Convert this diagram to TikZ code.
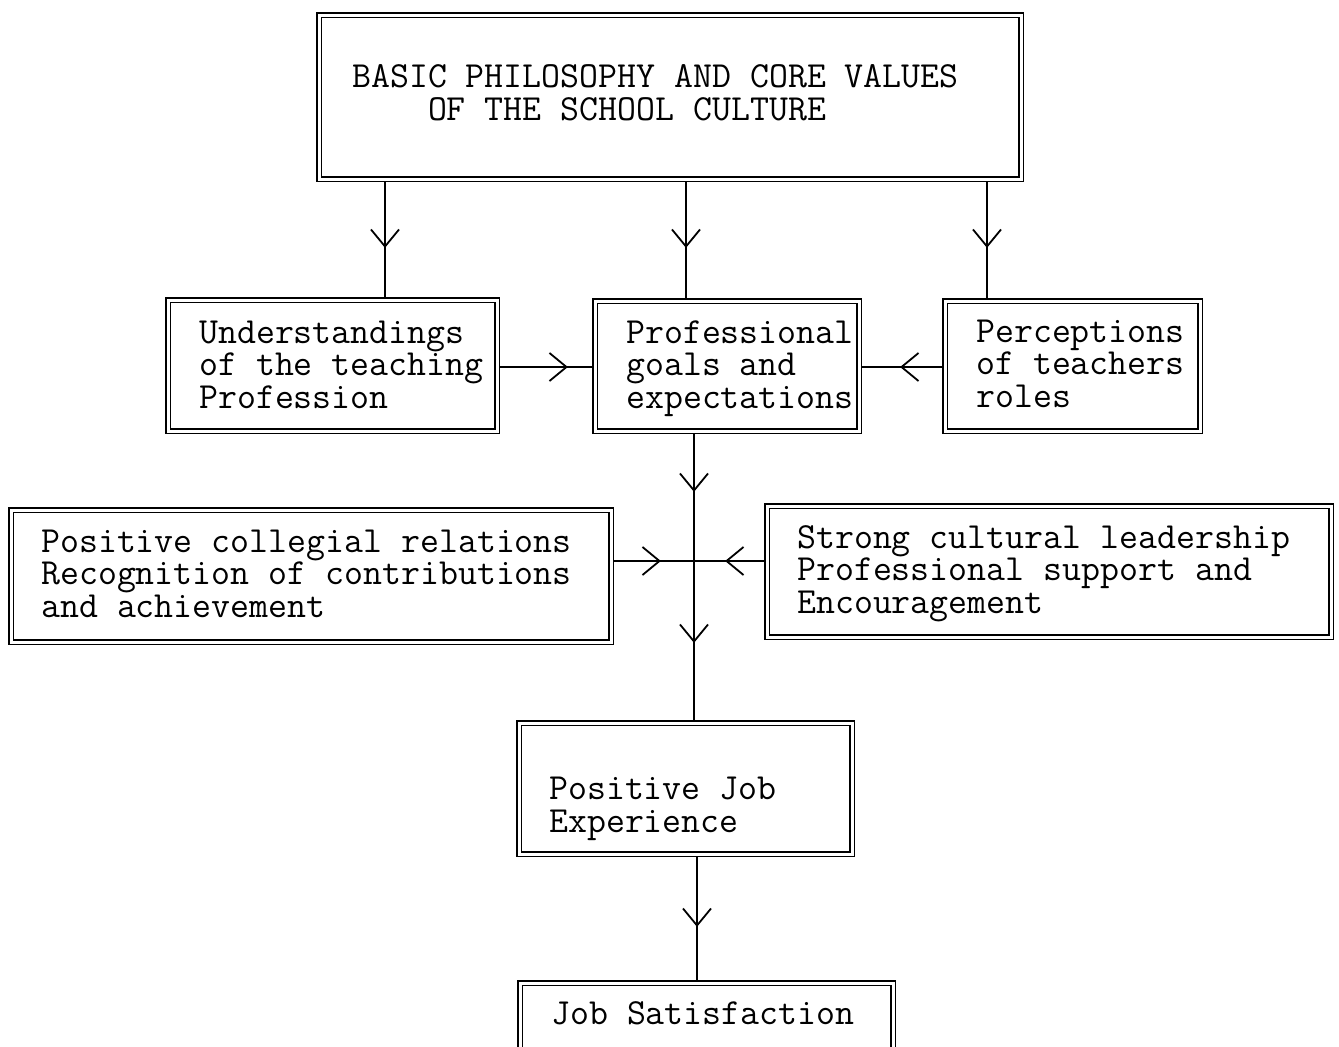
\documentclass[tikz,border=0pt]{standalone}
\usepackage{fontspec}
\usetikzlibrary{arrows.meta,decorations.markings}

\tikzset{
  box/.style={draw, double, double distance=3pt, line width=1.4pt,
    outer sep=2.9pt, inner sep=0pt, rectangle},
  % multi-line labels: the base anchor sits on the last line
  lbl/.style={font=\ttfamily\fontsize{36.8}{32.5}\selectfont, align=left,
    anchor=base west, inner sep=0pt},
  vtip/.tip={Straight Barb[length=17pt, width=28pt, line width=1.8pt]},
  flow/.style={line width=1.8pt},
  mid/.style={postaction={decorate, decoration={markings,
    mark=at position #1 with {\arrow{vtip}}}}},
}

\begin{document}
\begin{tikzpicture}[x=1pt, y=-1pt]
  \fill[white] (0,0) rectangle (1339,1047);
  \useasboundingbox (0,0) rectangle (1339,1047);

  % boxes
  \node[box, minimum width=702pt, minimum height=164pt] (top) at (670,97) {};
  \node[box, minimum width=329pt, minimum height=131pt] (u) at (332.5,365.5) {};
  \node[box, minimum width=264pt, minimum height=130pt] (p) at (727,366) {};
  \node[box, minimum width=255pt, minimum height=130pt] (q) at (1072.5,366) {};
  \node[box, minimum width=600pt, minimum height=132pt] (l) at (311,576) {};
  \node[box, minimum width=564pt, minimum height=131pt] (r) at (1049,571.5) {};
  \node[box, minimum width=333pt, minimum height=131pt] (e) at (685.5,788.5) {};
  \node[box, minimum width=373pt, minimum height=97pt] (s) at (706.5,1031.5) {};

  % texts
  \node[lbl] (ttop) at (352,120) {BASIC PHILOSOPHY AND CORE VALUES\\\phantom{XXXX}OF THE SCHOOL CULTURE};
  \node[lbl] (tu) at (199,408) {Understandings\\of the teaching\\Profession};
  \node[lbl] (tp) at (626,408) {Professional\\goals and\\expectations};
  \node[lbl] (tq) at (976,407) {Perceptions\\of teachers\\roles};
  \node[lbl] (tl) at (41,617) {Positive collegial relations\\Recognition of contributions\\and achievement};
  \node[lbl] (tr) at (797,613) {Strong cultural leadership\\Professional support and\\Encouragement};
  \node[lbl] (te) at (549,832) {Positive Job\\Experience};
  \node[lbl] (ts) at (551,1024) {Job Satisfaction};

  % connector positions
  \coordinate (xa) at (385,0);
  \coordinate (xb) at (686,0);
  \coordinate (xq) at (987,0);
  \coordinate (xc) at (694,0);
  \coordinate (xd) at (697,0);
  \coordinate (yh) at (0,367);
  \coordinate (j) at (694,561);

  % connectors
  \draw[flow, mid=66pt] (top.south -| xa) -- (u.north -| xa);
  \draw[flow, mid=66pt] (top.south -| xb) -- (p.north -| xb);
  \draw[flow, mid=66pt] (top.south -| xq) -- (q.north -| xq);
  \draw[flow, mid=68pt] (u.east |- yh) -- (p.west |- yh);
  \draw[flow, mid=42pt] (q.west |- yh) -- (p.east |- yh);
  \draw[flow, mid=58pt, mid=209pt] (p.south -| xc) -- (e.north -| xc);
  \draw[flow, mid=47pt] (l.east |- j) -- (j);
  \draw[flow, mid=39pt] (r.west |- j) -- (j);
  \draw[flow, mid=70pt] (e.south -| xd) -- (s.north -| xd);
\end{tikzpicture}
\end{document}
